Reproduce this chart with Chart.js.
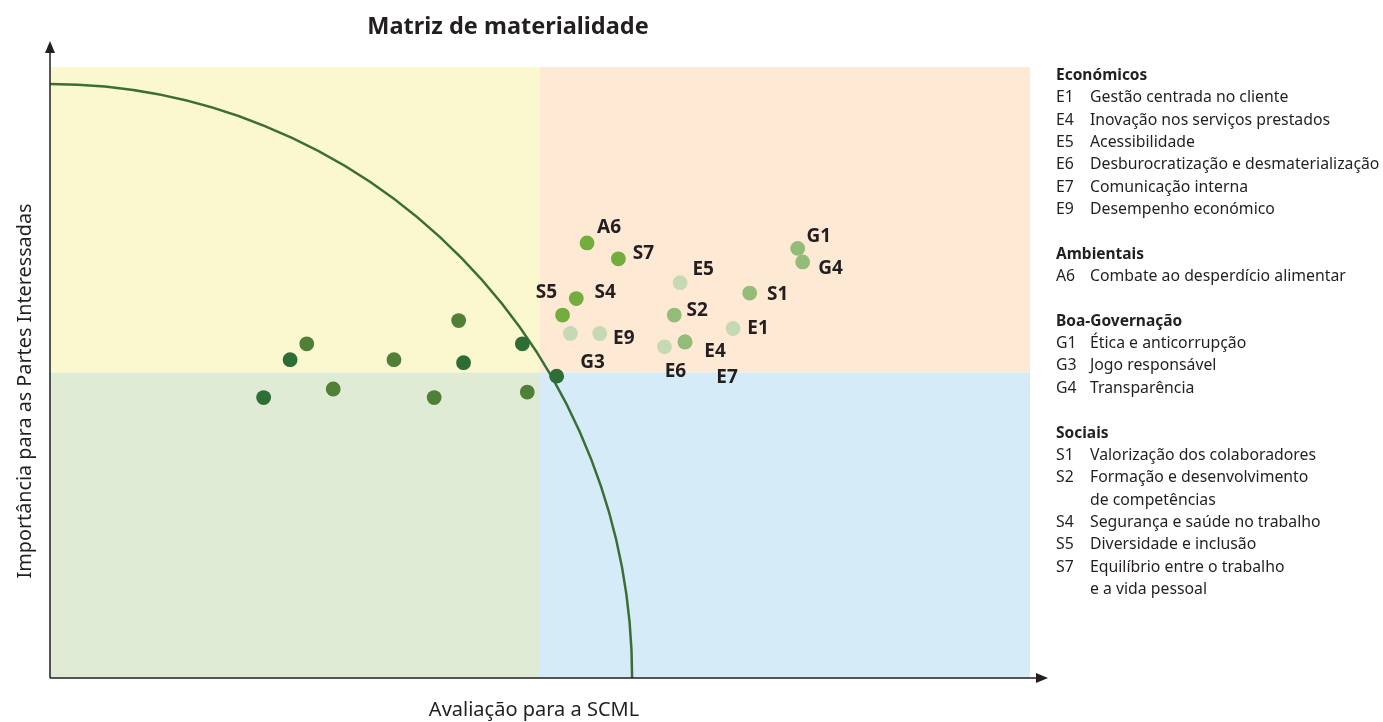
<!DOCTYPE html>
<html lang="pt">
<head>
<meta charset="utf-8">
<title>Matriz de materialidade</title>
<script src="https://cdn.jsdelivr.net/npm/chart.js@4.4.1/dist/chart.umd.min.js"></script>
<style>
  html, body { margin: 0; padding: 0; background: #fff; }
  #wrap { position: relative; width: 1383px; height: 722px; }
  #chart { position: absolute; left: 0; top: 0; }
  #legend {
    position: absolute; left: 1056px; top: 63px;
    font-family: "Noto Sans", sans-serif; font-size: 15.8px; color: #231f20;
    line-height: 22.35px; white-space: nowrap;
  }
  #legend .h { font-weight: bold; font-size: 15.5px; }
  #legend .gap { height: 22.35px; }
  #legend .row { display: flex; }
  #legend .c { width: 34px; flex: none; }
</style>
</head>
<body>
<div id="wrap">
  <canvas id="chart" width="1383" height="722"></canvas>
  <div id="legend"></div>
</div>
<script>
// colour groups of topics (x = Avaliação para a SCML, y = Importância para as Partes Interessadas)
const darkX = [2.18, 2.45, 4.22, 4.82, 5.17];
const darkY = [4.59, 5.21, 5.16, 5.47, 4.94];
const darkNames = ["", "", "", "", "G3"];

const midX = [2.62, 2.89, 3.51, 3.92, 4.17, 4.87];
const midY = [5.47, 4.73, 5.21, 4.59, 5.85, 4.68];
const midNames = ["", "", "", "", "", ""];

const brightX = [5.48, 5.80, 5.37, 5.23];
const brightY = [7.12, 6.86, 6.21, 5.94];
const brightNames = ["A6", "S7", "S4", "S5"];

const lightX = [6.48, 6.37, 6.48, 7.14, 7.63, 7.68];
const lightY = [5.50, 5.94, 5.50, 6.30, 7.03, 6.81];
const lightNames = ["E7", "S2", "E4", "S1", "G1", "G4"];

const paleX = [5.31, 5.61, 6.43, 6.27, 6.97];
const paleY = [5.64, 5.64, 6.47, 5.42, 5.72];
const paleNames = ["", "E9", "E5", "E6", "E1"];

// where each label sits relative to its dot, in px
const labelOffset = {
  A6: [22, -15], S7: [25, -5], S4: [29, -6], S5: [-16, -22],
  E9: [24, 5], E5: [23, -13], S2: [23, -4], E4: [30, 10],
  E6: [11, 25], E7: [42, 36], E1: [25, 0], S1: [28, 2],
  G1: [21, -12], G4: [28, 7], G3: [36, -14]
};

const legendGroups = [
  ["Económicos", [["E1", "Gestão centrada no cliente"], ["E4", "Inovação nos serviços prestados"],
    ["E5", "Acessibilidade"], ["E6", "Desburocratização e desmaterialização"],
    ["E7", "Comunicação interna"], ["E9", "Desempenho económico"]]],
  ["Ambientais", [["A6", "Combate ao desperdício alimentar"]]],
  ["Boa-Governação", [["G1", "Ética e anticorrupção"], ["G3", "Jogo responsável"], ["G4", "Transparência"]]],
  ["Sociais", [["S1", "Valorização dos colaboradores"], ["S2", "Formação e desenvolvimento<br>de competências"],
    ["S4", "Segurança e saúde no trabalho"], ["S5", "Diversidade e inclusão"],
    ["S7", "Equilíbrio entre o trabalho<br>e a vida pessoal"]]]
];

const legendEl = document.getElementById("legend");
legendEl.innerHTML = legendGroups.map(([title, items], i) =>
  (i > 0 ? '<div class="gap"></div>' : "") +
  `<div class="h">${title}</div>` +
  items.map(([c, t]) => `<div class="row"><span class="c">${c}</span><span>${t}</span></div>`).join("")
).join("");

const toPoints = (xs, ys, names) => xs.map((x, i) => ({ x: x, y: ys[i], name: names[i] }));

const ink = "#231f20";

const matrixPlugin = {
  id: "matrix",
  beforeDatasetsDraw(chart) {
    const { ctx, chartArea: a, scales: { x, y } } = chart;
    const mx = x.getPixelForValue(5), my = y.getPixelForValue(5);
    ctx.save();
    ctx.fillStyle = "#fbf8cf"; ctx.fillRect(a.left, a.top, mx - a.left, my - a.top);
    ctx.fillStyle = "#fde9d4"; ctx.fillRect(mx, a.top, a.right - mx, my - a.top);
    ctx.fillStyle = "#dfebd5"; ctx.fillRect(a.left, my, mx - a.left, a.bottom - my);
    ctx.fillStyle = "#d5ebf8"; ctx.fillRect(mx, my, a.right - mx, a.bottom - my);

    // materiality threshold
    const cx = x.getPixelForValue(0), cy = y.getPixelForValue(0);
    const rx = x.getPixelForValue(5.94) - cx, ry = cy - y.getPixelForValue(9.72);
    ctx.beginPath();
    ctx.ellipse(cx, cy, rx, ry, 0, -Math.PI / 2, 0);
    ctx.strokeStyle = "#3b6e35"; ctx.lineWidth = 2.5; ctx.stroke();

    // axes with arrows
    ctx.strokeStyle = ink; ctx.fillStyle = ink; ctx.lineWidth = 1.5;
    ctx.beginPath();
    ctx.moveTo(a.left, a.bottom); ctx.lineTo(a.left, a.top - 20);
    ctx.moveTo(a.left, a.bottom); ctx.lineTo(a.right + 12, a.bottom);
    ctx.stroke();
    ctx.beginPath();
    ctx.moveTo(a.left, a.top - 26); ctx.lineTo(a.left - 5, a.top - 14); ctx.lineTo(a.left + 5, a.top - 14);
    ctx.closePath(); ctx.fill();
    ctx.beginPath();
    ctx.moveTo(a.right + 18, a.bottom); ctx.lineTo(a.right + 6, a.bottom - 5); ctx.lineTo(a.right + 6, a.bottom + 5);
    ctx.closePath(); ctx.fill();

    // titles
    ctx.textAlign = "center"; ctx.textBaseline = "middle";
    ctx.font = "bold 23.5px 'Noto Sans'";
    ctx.fillText("Matriz de materialidade", 508, 27);
    ctx.font = "20px 'Noto Sans'";
    ctx.fillText("Avaliação para a SCML", 534, 710);
    ctx.save();
    ctx.translate(25, 391); ctx.rotate(-Math.PI / 2);
    ctx.font = "19.8px 'Noto Sans'";
    ctx.fillText("Importância para as Partes Interessadas", 0, 0);
    ctx.restore();
    ctx.restore();
  },
  afterDatasetsDraw(chart) {
    const { ctx } = chart;
    ctx.save();
    ctx.font = "bold 19px 'Noto Sans'";
    ctx.fillStyle = ink; ctx.textAlign = "center"; ctx.textBaseline = "middle";
    chart.data.datasets.forEach((ds, di) => {
      chart.getDatasetMeta(di).data.forEach((el, i) => {
        const name = ds.data[i].name;
        if (!name) return;
        const [dx, dy] = labelOffset[name];
        ctx.fillText(name, el.x + dx, el.y + dy);
      });
    });
    ctx.restore();
  }
};

const makeSet = (label, color, pts) => ({
  label: label, data: pts, backgroundColor: color, borderWidth: 0,
  pointRadius: 7.4, pointHoverRadius: 7.4
});

new Chart(document.getElementById("chart"), {
  type: "scatter",
  data: {
    datasets: [
      makeSet("dark", "#2d6e37", toPoints(darkX, darkY, darkNames)),
      makeSet("mid", "#527f37", toPoints(midX, midY, midNames)),
      makeSet("bright", "#72ad3e", toPoints(brightX, brightY, brightNames)),
      makeSet("light", "#94bc79", toPoints(lightX, lightY, lightNames)),
      makeSet("pale", "#c5d9b5", toPoints(paleX, paleY, paleNames))
    ]
  },
  options: {
    responsive: false,
    animation: false,
    layout: { padding: { left: 50, right: 353, top: 67, bottom: 44 } },
    scales: {
      x: { display: false, min: 0, max: 10 },
      y: { display: false, min: 0, max: 10 }
    },
    plugins: { legend: { display: false }, tooltip: { enabled: false } }
  },
  plugins: [matrixPlugin]
});
</script>
</body>
</html>
